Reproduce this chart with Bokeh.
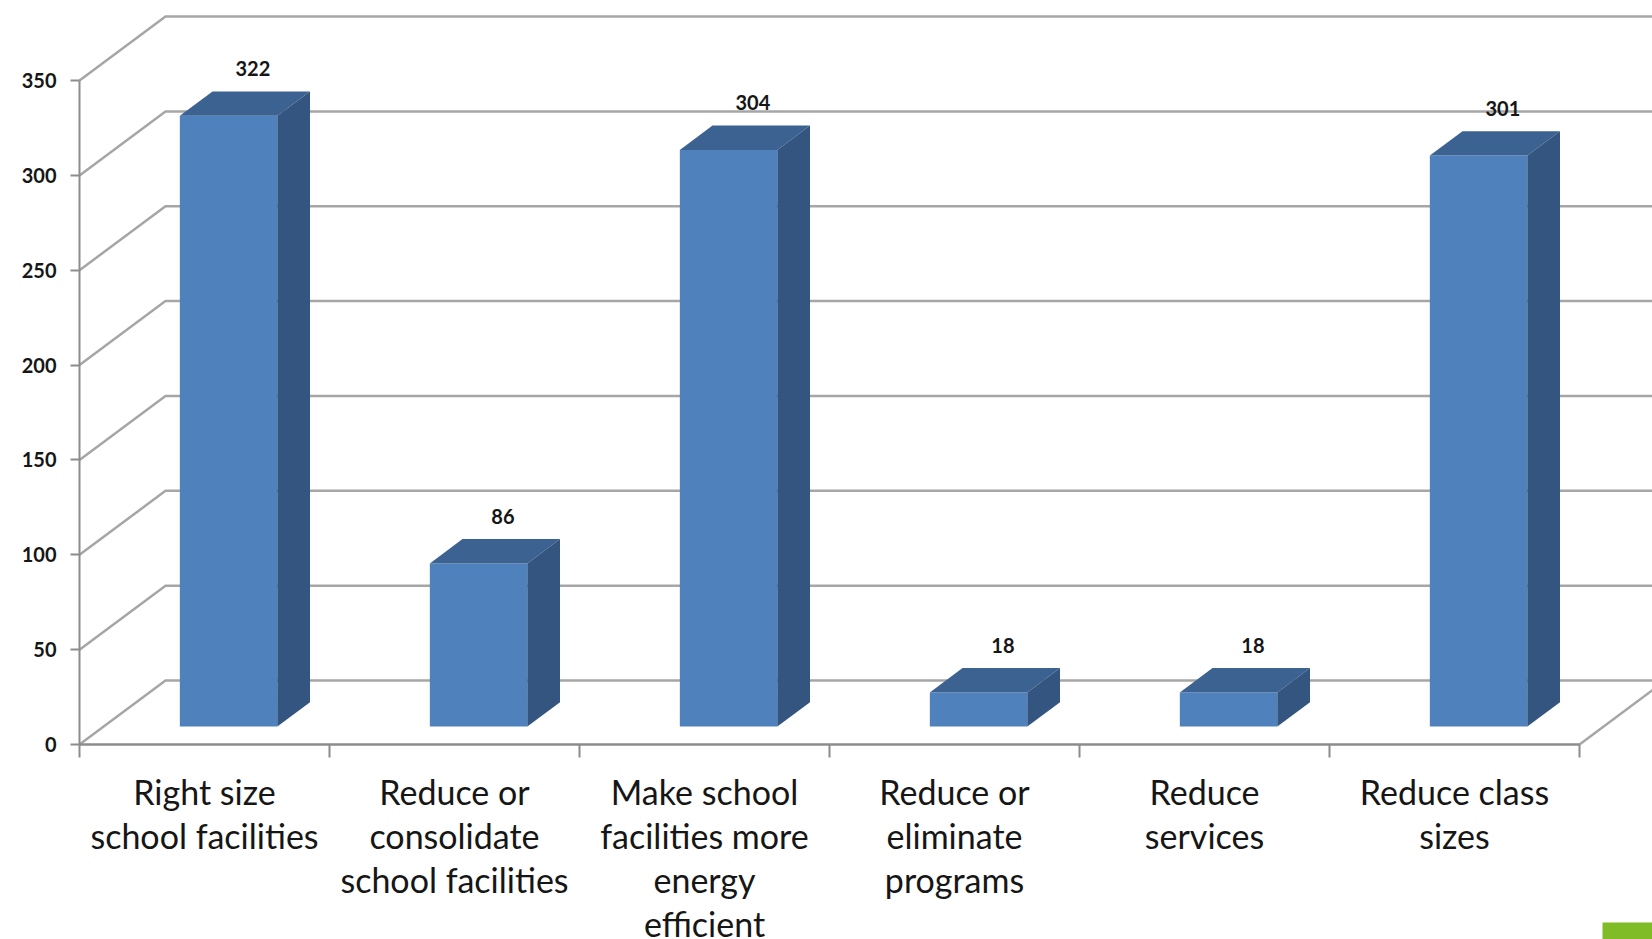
from bokeh.plotting import figure
from bokeh.models import Range1d, LinearAxis, FixedTicker, BoxAnnotation, ColumnDataSource
from bokeh.core.properties import value
from bokeh.embed import file_html
from bokeh.resources import INLINE

# ---- data ----
categories = [
    "Right size\nschool facilities",
    "Reduce or\nconsolidate\nschool facilities",
    "Make school\nfacilities more\nenergy\nefficient",
    "Reduce or\neliminate\nprograms",
    "Reduce\nservices",
    "Reduce class\nsizes",
]
counts = [322, 86, 304, 18, 18, 301]
y_ticks = [0, 50, 100, 150, 200, 250, 300, 350]

# ---- layout constants (pixels) ----
W, H = 1652, 939
PX_X = 250.0      # pixels per category
PX_Y = 1.897      # pixels per unit of value
X0, Y0 = 79, 744  # pixel position of the front-left origin
DX = 86 / PX_X    # oblique depth offset (x, data units)
DY = 64 / PX_Y    # oblique depth offset (y, data units)
D_FRONT, D_BACK = 0.28, 0.66
HALF_W = 0.195

x_lo, x_hi = -X0 / PX_X, (W - X0) / PX_X
y_lo, y_hi = -(H - Y0) / PX_Y, Y0 / PX_Y

p = figure(width=W, height=H, x_range=Range1d(x_lo, x_hi), y_range=Range1d(y_lo, y_hi),
           x_axis_location=None, y_axis_location=None, toolbar_location=None,
           output_backend="svg", min_border=0, outline_line_color=None,
           background_fill_color="white", border_fill_color="white")
p.grid.visible = False

GRID = "#A6A6A6"
AXIS = "#8C8C8C"
TXT = "#161616"

# ---- walls (gridlines) ----
n = len(categories)
gxs, gys = [], []
for t in y_ticks:
    gxs.append([0, DX, x_hi + 1])
    gys.append([t, t + DY, t + DY])
gxs.append([n, n + DX])
gys.append([0, DY])
p.multi_line(gxs, gys, line_color=GRID, line_width=2.5)

# ---- 3D bars ----
s0, s1 = D_FRONT * DX, D_BACK * DX
h0, h1 = D_FRONT * DY, D_BACK * DY
left = [i + 0.5 - HALF_W + s0 for i in range(n)]
right = [i + 0.5 + HALF_W + s0 for i in range(n)]
p.quad(left=left, right=right, bottom=[h0] * n, top=[v + h0 for v in counts],
       fill_color="#4F81BD", line_color=None)
top_xs, top_ys, side_xs, side_ys = [], [], [], []
for i, v in enumerate(counts):
    xl, xr = i + 0.5 - HALF_W, i + 0.5 + HALF_W
    top_xs.append([xl + s0, xr + s0, xr + s1, xl + s1])
    top_ys.append([v + h0, v + h0, v + h1, v + h1])
    side_xs.append([xr + s0, xr + s1, xr + s1, xr + s0])
    side_ys.append([h0, h1, v + h1, v + h0])
p.patches(top_xs, top_ys, fill_color="#3C6291", line_color=None)
p.patches(side_xs, side_ys, fill_color="#33557F", line_color=None)

# ---- value labels ----
dmid = 0.5 * (D_FRONT + D_BACK)
lab = ColumnDataSource(dict(
    x=[i + 0.5 + dmid * DX + 8 / PX_X for i in range(n)],
    y=[v + h1 + 23 / PX_Y for v in counts],
    t=[str(v) for v in counts]))
p.text(x="x", y="y", text="t", source=lab, text_align="center", text_baseline="middle",
       text_font=value("Lato"), text_font_style="bold", text_font_size="20px", text_color=TXT)

# ---- axes ----
yaxis = LinearAxis(fixed_location=0, bounds=(0, max(y_ticks)),
                   ticker=FixedTicker(ticks=y_ticks, minor_ticks=[]))
yaxis.axis_line_color = AXIS
yaxis.axis_line_width = 2
yaxis.major_tick_line_color = AXIS
yaxis.major_tick_line_width = 2
yaxis.major_tick_out = 9
yaxis.major_tick_in = 0
yaxis.minor_tick_out = 0
yaxis.major_label_standoff = 14
yaxis.major_label_text_font = "Lato"
yaxis.major_label_text_font_style = "bold"
yaxis.major_label_text_font_size = "20px"
yaxis.major_label_text_color = TXT
p.add_layout(yaxis, "left")

centers = [i + 0.5 for i in range(n)]
xaxis = LinearAxis(fixed_location=0, bounds=(0, n),
                   ticker=FixedTicker(ticks=centers, minor_ticks=list(range(n + 1))),
                   major_label_overrides={c: lbl for c, lbl in zip(centers, categories)})
xaxis.axis_line_color = AXIS
xaxis.axis_line_width = 2.5
xaxis.major_tick_out = 0
xaxis.major_tick_in = 0
xaxis.minor_tick_line_color = AXIS
xaxis.minor_tick_line_width = 2
xaxis.minor_tick_out = 13
xaxis.minor_tick_in = 0
xaxis.major_label_standoff = 13
xaxis.major_label_text_font = "Lato"
xaxis.major_label_text_font_size = "34px"
xaxis.major_label_text_color = TXT
xaxis.major_label_text_line_height = 1.077
p.add_layout(xaxis, "below")

# ---- slide decoration ----
p.add_layout(BoxAnnotation(left=(1602 - X0) / PX_X, right=x_hi + 1,
                           bottom=y_lo - 10, top=-(922 - Y0) / PX_Y,
                           fill_color="#80BC25", fill_alpha=1.0, line_color=None))

open("out.html", "w").write(file_html(p, INLINE))
